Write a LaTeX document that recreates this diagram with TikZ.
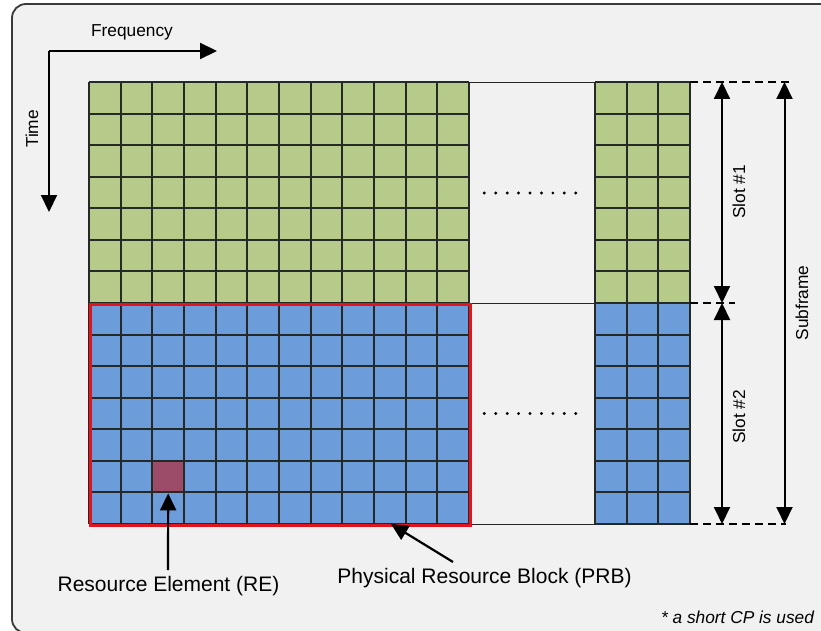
\documentclass[tikz,border=0pt]{standalone}
\usepackage{fontspec}
\setmainfont{Liberation Sans}
\usetikzlibrary{arrows.meta}
\definecolor{bggray}{HTML}{F1F1F1}
\definecolor{framegray}{HTML}{3A3A3A}
\definecolor{cellgreen}{HTML}{B6CA8A}
\definecolor{cellblue}{HTML}{6D9CDA}
\definecolor{remaroon}{HTML}{9C4C68}
\definecolor{prbred}{HTML}{E3141B}
\definecolor{gridline}{HTML}{262A26}
\begin{document}
\begin{tikzpicture}[x=1pt,y=-1pt,
  tip/.style={-{Triangle[length=17pt,width=16pt]}, line width=2.2pt},
  dimline/.style={{Triangle[length=17pt,width=16pt]}-{Triangle[length=17pt,width=16pt]}, line width=2pt},
  lbl/.style={font=\fontsize{17.3}{20}\selectfont, inner sep=0pt},
  biglbl/.style={font=\fontsize{21}{25}\selectfont, inner sep=0pt},
  cellline/.style={draw=gridline, line width=1.5pt},
  gapline/.style={draw=black!85, line width=0.9pt},
  guide/.style={dash pattern=on 8pt off 5pt, line width=1.8pt},
]
\useasboundingbox (0,0) rectangle (821,631);
\fill[white] (0,0) rectangle (821,631);
\begin{scope}
  \clip (0,0) rectangle (821,631);
  \draw[fill=bggray, draw=framegray, line width=1.8pt, rounded corners=14pt] (12,4) rectangle (840,633);
\end{scope}

% resource grid: two slots of 7 symbols, 12 + 3 subcarriers shown
\foreach \bx/\nc in {89/12, 595/3} {
  \fill[cellgreen] (\bx,82) rectangle ({\bx+\nc*31.667},303);
  \fill[cellblue] (\bx,303) rectangle ({\bx+\nc*31.667},524);
}
\node[fill=remaroon, minimum width=32pt, minimum height=32pt,
      inner sep=0pt, anchor=north west] (re) at (152,461) {};
\foreach \bx/\nc in {89/12, 595/3} {
  \foreach \i in {0,...,\nc} {
    \pgfmathsetmacro{\xx}{round(\bx+\i*31.667)}
    \draw[cellline] (\xx,82) -- (\xx,524);
  }
  \foreach \j in {0,...,14} {
    \pgfmathsetmacro{\yy}{round(82+\j*31.571)}
    \draw[cellline] (\bx,\yy) -- ({\bx+\nc*31.667},\yy);
  }
}
\foreach \yy in {82,303,524}
  \draw[gapline] (469,\yy) -- (595,\yy);

% omitted subcarriers
\foreach \k in {0,...,8} {
  \fill ({484.3+\k*11.43},193) circle (1.6pt);
  \fill ({484.3+\k*11.43},413.5) circle (1.6pt);
}

% physical resource block outline
\node[draw=prbred, line width=2.6pt, minimum width=380pt, minimum height=221pt,
      inner sep=0pt, anchor=north west] (prb) at (89,303) {};

% axes
\coordinate (origin) at (49,51);
\coordinate (fEnd) at (217,51);
\coordinate (tEnd) at (49,212);
\draw[tip] (origin) -- (fEnd);
\draw[tip] (origin) -- (tEnd);
\node[lbl] (freq) at (132,32) {Frequency};
\node[lbl, rotate=90] (time) at (32,129) {Time};

% slot and subframe extents
\coordinate (gTop) at (690,82);
\coordinate (gMid) at (690,303);
\coordinate (gBot) at (690,524);
\coordinate (topEnd) at (793,82);
\coordinate (midEnd) at (735,303);
\coordinate (botEnd) at (786,524);
\draw[guide] (gTop) -- (topEnd);
\draw[guide] (gMid) -- (midEnd);
\draw[guide] (gBot) -- (botEnd);

\coordinate (s1Top) at (722,82);
\coordinate (s1Bot) at (722,303);
\coordinate (s2Top) at (722,303);
\coordinate (s2Bot) at (722,524);
\coordinate (sfTop) at (784.5,82);
\coordinate (sfBot) at (784.5,524);
\draw[dimline] (s1Top) -- (s1Bot);
\draw[dimline] (s2Top) -- (s2Bot);
\draw[dimline] (sfTop) -- (sfBot);
\node[lbl, rotate=90] (slot1) at (739,192) {Slot \#1};
\node[lbl, rotate=90] (slot2) at (739,417) {Slot \#2};
\node[lbl, rotate=90] (subframe) at (802,303) {Subframe};

% callouts
\node[biglbl] (relbl) at (168.5,586) {Resource Element (RE)};
\coordinate (reTail) at (168,570);
\draw[tip] (reTail) -- (re.south);
\node[biglbl] (prblbl) at (484.5,578) {Physical Resource Block (PRB)};
\coordinate (prbTail) at (453,562);
\coordinate (prbTip) at (391,524);
\draw[tip] (prbTail) -- (prbTip);

\node[lbl, font=\fontsize{17.3}{20}\selectfont\itshape] (note) at (737.5,617) {* a short CP is used};
\end{tikzpicture}
\end{document}
